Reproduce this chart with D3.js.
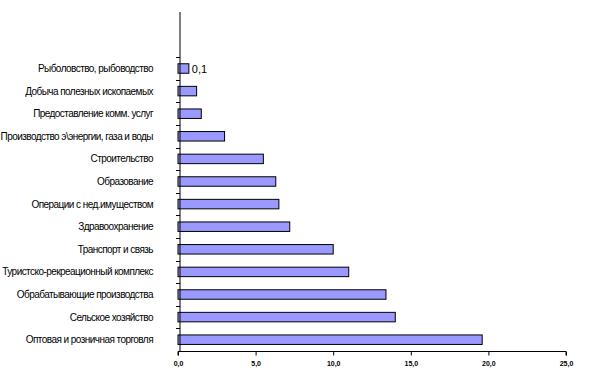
<!DOCTYPE html>
<html>
<head>
<meta charset="utf-8">
<script src="https://cdn.jsdelivr.net/npm/d3@7"></script>
<style>
  body { margin: 0; background: #fff; }
  svg text { font-family: 'Liberation Sans', Arial, sans-serif; }
</style>
</head>
<body>
<div id="chart"></div>
<script>
  // categories from top to bottom (two empty slots at the top, as in the original)
  var categories = [
    '', ' ',
    'Рыболовство, рыбоводство',
    'Добыча полезных ископаемых',
    'Предоставление комм. услуг',
    'Производство э\\энергии, газа и воды',
    'Строительство',
    'Образование',
    'Операции с нед.имуществом',
    'Здравоохранение',
    'Транспорт и связь',
    'Туристско-рекреационный комплекс',
    'Обрабатывающие производства',
    'Сельское хозяйство',
    'Оптовая и розничная торговля'
  ];
  var values = [null, null, 0.7, 1.2, 1.5, 3.0, 5.5, 6.3, 6.5, 7.2, 10.0, 11.0, 13.4, 14.0, 19.6];
  var dataLabels = [null, null, '0,1', null, null, null, null, null, null, null, null, null, null, null, null];
  var xTicks = [0, 5, 10, 15, 20, 25];

  var width = 593;
  var height = 385;
  var margin = { top: 12, right: 27, bottom: 34, left: 178 };

  var svg = d3.select('#chart').append('svg')
    .attr('width', width)
    .attr('height', height);

  var x = d3.scaleLinear()
    .domain([0, 25])
    .range([margin.left, width - margin.right]);

  var y = d3.scaleBand()
    .domain(categories)
    .range([margin.top, height - margin.bottom])
    .paddingInner(0)
    .paddingOuter(0);

  var barH = y.bandwidth() * 0.42;
  var axisX = x(0) + 2;

  /* bars */
  var rows = categories.map(function (c, i) {
    return { cat: c, value: values[i], label: dataLabels[i] };
  }).filter(function (d) { return d.value !== null; });

  svg.selectAll('.bar')
    .data(rows)
    .enter()
    .append('rect')
    .attr('class', 'bar')
    .attr('x', x(0))
    .attr('y', function (d) { return y(d.cat) + (y.bandwidth() - barH) / 2; })
    .attr('width', function (d) { return x(d.value) - x(0); })
    .attr('height', barH)
    .attr('fill', '#9999ff')
    .attr('stroke', '#000')
    .attr('stroke-width', 1);

  /* category labels */
  svg.selectAll('.cat')
    .data(rows)
    .enter()
    .append('text')
    .attr('class', 'cat')
    .attr('x', 153)
    .attr('y', function (d) { return y(d.cat) + y.bandwidth() / 2; })
    .attr('dy', '0.35em')
    .attr('text-anchor', 'end')
    .attr('font-size', 10)
    .attr('letter-spacing', -0.55)
    .attr('fill', '#000')
    .text(function (d) { return d.cat; });

  /* data labels */
  svg.selectAll('.dlabel')
    .data(rows.filter(function (d) { return d.label; }))
    .enter()
    .append('text')
    .attr('class', 'dlabel')
    .attr('x', function (d) { return x(d.value) + 3; })
    .attr('y', function (d) { return y(d.cat) + y.bandwidth() / 2; })
    .attr('dy', '0.38em')
    .attr('font-size', 11)
    .attr('fill', '#000')
    .text(function (d) { return d.label; });

  /* vertical category axis */
  svg.append('line')
    .attr('x1', axisX).attr('x2', axisX)
    .attr('y1', margin.top).attr('y2', height - margin.bottom)
    .attr('stroke', '#000');

  // ticks between categories, from the first drawn bar downwards
  var tickYs = categories.slice(2).map(function (c) { return y(c); });
  svg.selectAll('.ytick')
    .data(tickYs)
    .enter()
    .append('line')
    .attr('class', 'ytick')
    .attr('x1', axisX - 4).attr('x2', axisX)
    .attr('y1', function (d) { return Math.round(d) + 0.5; })
    .attr('y2', function (d) { return Math.round(d) + 0.5; })
    .attr('stroke', '#000');

  /* horizontal value axis */
  var xAxis = d3.axisBottom(x)
    .tickValues(xTicks)
    .tickSize(4)
    .tickFormat(function (d) { return d3.format('.1f')(d).replace('.', ','); });

  var gx = svg.append('g')
    .attr('transform', 'translate(0,' + (height - margin.bottom + 0.5) + ')')
    .call(xAxis);

  gx.select('.domain').attr('d', 'M' + x(0) + ',4V0H' + x(25) + 'V4');
  gx.selectAll('.tick text')
    .attr('y', 10)
    .attr('font-size', 7)
    .attr('font-family', "'Liberation Sans', Arial, sans-serif")
    .attr('font-weight', 'bold')
    .attr('fill', '#000');
  gx.selectAll('.tick line').attr('stroke', '#000');
</script>
</body>
</html>
